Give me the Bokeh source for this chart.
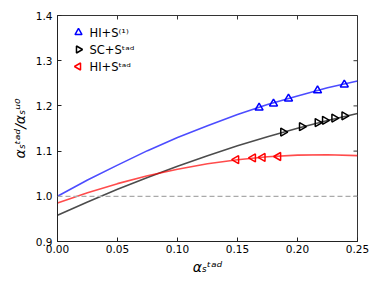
from bokeh.plotting import figure
from bokeh.models import (Range1d, FixedTicker, NumeralTickFormatter,
                          Span, Label)
from bokeh.embed import file_html
from bokeh.resources import INLINE
import math

# --- data ---
curve_x = [0.0, 0.025, 0.05, 0.075, 0.1, 0.125, 0.15, 0.175, 0.2, 0.225, 0.25]
blue_curve = [1.000, 1.036, 1.069, 1.101, 1.130, 1.156, 1.181, 1.203, 1.222, 1.240, 1.255]
black_curve = [0.958, 0.9875, 1.0154, 1.0418, 1.0667, 1.0899, 1.1116, 1.1318, 1.1504, 1.1675, 1.183]
red_curve = [0.985, 1.008, 1.028, 1.0456, 1.060, 1.072, 1.081, 1.0876, 1.091, 1.092, 1.090]

hi_s1_x = [0.168, 0.180, 0.1925, 0.2167, 0.239]
hi_s1_y = [1.196, 1.205, 1.216, 1.234, 1.247]

sc_stad_x = [0.188, 0.2036, 0.2167, 0.2228, 0.2306, 0.239]
sc_stad_y = [1.142, 1.154, 1.163, 1.168, 1.173, 1.178]

hi_stad_x = [0.149, 0.163, 0.171, 0.184]
hi_stad_y = [1.081, 1.085, 1.086, 1.088]

series_labels = ["HI+S\u207d\u00b9\u207e", "SC+S\u1d57\u1d43\u1d48", "HI+S\u1d57\u1d43\u1d48"]
series_colors = ["blue", "black", "red"]
series_angles = [0.0, -math.pi / 2, math.pi / 2]   # up, right, left triangles

x_ticks = [0.0, 0.05, 0.10, 0.15, 0.20, 0.25]
y_ticks = [0.9, 1.0, 1.1, 1.2, 1.3, 1.4]
x_min, x_max = 0.0, 0.25
y_min, y_max = 0.9, 1.4

FONT = "DejaVu Sans"
W, H = 381, 288
BL, BR, BT, BB = 57, 24, 15, 47
FRAME_W, FRAME_H = W - BL - BR, H - BT - BB

p = figure(width=W, height=H, output_backend="svg", toolbar_location=None,
           x_range=Range1d(x_min, x_max), y_range=Range1d(y_min, y_max),
           min_border_left=BL, min_border_right=BR, min_border_top=BT, min_border_bottom=BB)
p.grid.visible = False
p.background_fill_color = "white"
p.outline_line_color = "#333333"
p.outline_line_width = 1

for ax in (p.xaxis[0], p.yaxis[0]):
    ax.major_tick_in = 4
    ax.major_tick_out = 0
    ax.minor_tick_in = 0
    ax.minor_tick_out = 0
    ax.axis_line_color = "#222222"
    ax.major_tick_line_color = "#222222"
    ax.major_label_text_font = FONT
    ax.major_label_text_font_size = "10.5px"
    ax.major_label_text_color = "black"
    ax.axis_label_text_font = FONT
    ax.axis_label_text_font_size = "14px"
    ax.axis_label_text_font_style = "italic"
    ax.axis_label_text_color = "black"

p.xaxis[0].ticker = FixedTicker(ticks=x_ticks)
p.xaxis[0].formatter = NumeralTickFormatter(format="0.00")
p.yaxis[0].ticker = FixedTicker(ticks=y_ticks)
p.yaxis[0].formatter = NumeralTickFormatter(format="0.0")
p.xaxis[0].major_label_standoff = 3
p.xaxis[0].axis_label = "\u03b1\u209b\u1d57\u1d43\u1d48"
p.xaxis[0].axis_label_standoff = 3
p.yaxis[0].axis_label = "\u03b1\u209b\u1d57\u1d43\u1d48/\u03b1\u209b\u1d58\u2070"
p.yaxis[0].axis_label_standoff = 5

# inward ticks on the top and right edges (dash markers, clipped to the frame)
p.scatter(x_ticks, [y_max] * len(x_ticks), marker="dash", angle=math.pi / 2, size=8,
          line_color="#333333", line_width=1)
p.scatter([x_max] * len(y_ticks), y_ticks, marker="dash", size=8,
          line_color="#333333", line_width=1)

p.add_layout(Span(location=1.0, dimension="width", line_color="#aaaaaa",
                  line_dash="5 3", line_width=1.3))

p.line(curve_x, blue_curve, line_color="blue", line_alpha=0.7, line_width=1.6)
p.line(curve_x, black_curve, line_color="black", line_alpha=0.7, line_width=1.6)
p.line(curve_x, red_curve, line_color="red", line_alpha=0.7, line_width=1.6)

for xs, ys, col, ang in zip([hi_s1_x, sc_stad_x, hi_stad_x], [hi_s1_y, sc_stad_y, hi_stad_y],
                            series_colors, series_angles):
    p.scatter(xs, ys, marker="triangle", angle=ang, size=8, fill_color=None,
              line_color=col, line_width=1.5)

# legend (keys drawn with rotated markers, since Bokeh legends ignore marker angles)
x_per_px = (x_max - x_min) / FRAME_W
y_per_px = (y_max - y_min) / FRAME_H
KEY_DX, TEXT_DX, ROW0, ROW_STEP = 21, 32, 17, 17
for i, (lab, col, ang) in enumerate(zip(series_labels, series_colors, series_angles)):
    dy = ROW0 + i * ROW_STEP
    p.scatter([x_min + KEY_DX * x_per_px], [y_max - dy * y_per_px], marker="triangle",
              angle=ang, size=7, fill_color=None, line_color=col, line_width=1.5)
    p.add_layout(Label(x=x_min, y=y_max, x_offset=TEXT_DX, y_offset=-dy, text=lab,
                       text_font=FONT, text_font_size="11.5px", text_color="black",
                       text_baseline="middle", text_align="left"))

open("out.html", "w").write(file_html(p, INLINE))
